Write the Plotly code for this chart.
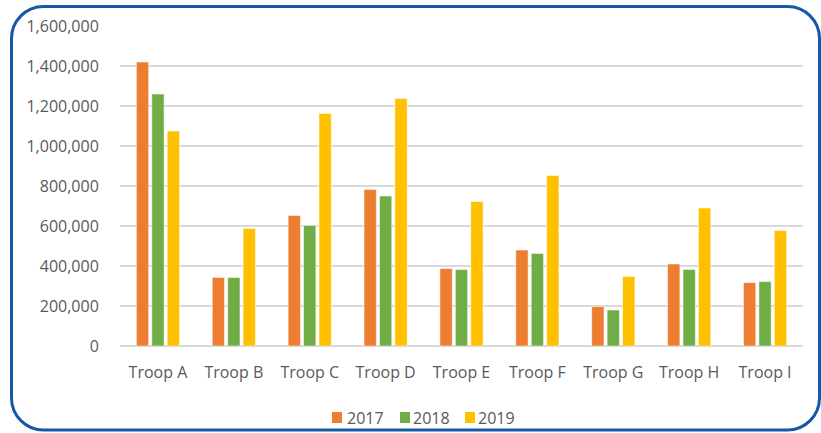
import plotly.graph_objects as go

categories = ["Troop A", "Troop B", "Troop C", "Troop D", "Troop E",
              "Troop F", "Troop G", "Troop H", "Troop I"]
series_names = ["2017", "2018", "2019"]
values_2017 = [1420000, 343000, 653000, 783000, 387000, 480000, 197000, 410000, 317000]
values_2018 = [1260000, 343000, 603000, 750000, 382000, 463000, 180000, 383000, 322000]
values_2019 = [1075000, 588000, 1163000, 1238000, 723000, 853000, 348000, 690000, 577000]
colors = ["#ED7D31", "#70AD47", "#FFC000"]
y_tick_vals = [0, 200000, 400000, 600000, 800000, 1000000, 1200000, 1400000, 1600000]
y_tick_text = ["0", "200,000", "400,000", "600,000", "800,000", "1,000,000",
               "1,200,000", "1,400,000", "1,600,000"]

W, H = 821, 433
ML, MR, MT, MB = 120, 18, 26, 87
PW, PH = W - ML - MR, H - MT - MB


def px(x):
    return (x - ML) / PW


def py(y):
    return (H - MB - y) / PH


def rounded_rect(x0, y0, x1, y1, r):
    k = 0.5523 * r
    pts = [
        ("M", [(x0 + r, y0)]),
        ("L", [(x1 - r, y0)]),
        ("C", [(x1 - r + k, y0), (x1, y0 + r - k), (x1, y0 + r)]),
        ("L", [(x1, y1 - r)]),
        ("C", [(x1, y1 - r + k), (x1 - r + k, y1), (x1 - r, y1)]),
        ("L", [(x0 + r, y1)]),
        ("C", [(x0 + r - k, y1), (x0, y1 - r + k), (x0, y1 - r)]),
        ("L", [(x0, y0 + r)]),
        ("C", [(x0, y0 + r - k), (x0 + r - k, y0), (x0 + r, y0)]),
    ]
    s = ""
    for cmd, ps in pts:
        s += cmd + " " + " ".join(f"{px(a):.5f},{py(b):.5f}" for a, b in ps) + " "
    return s + "Z"


fig = go.Figure()
for name, vals, col in zip(series_names, [values_2017, values_2018, values_2019], colors):
    fig.add_trace(go.Bar(
        x=categories, y=vals, name=name,
        marker=dict(color=col, line=dict(color="rgba(255,255,255,0.55)", width=1)),
        showlegend=False,
    ))

# Legend drawn compactly (square + label), like the reference
legend_sq_x = [332, 400, 465]
legend_txt_x = [345, 411, 476]
shapes = [dict(type="path", xref="paper", yref="paper",
               path=rounded_rect(11.5, 6.5, 819.5, 430, 32),
               line=dict(color="#1558A8", width=3), layer="above")]
annotations = []
for name, col, sx, tx in zip(series_names, colors, legend_sq_x, legend_txt_x):
    shapes.append(dict(type="rect", xref="paper", yref="paper",
                       x0=px(sx), x1=px(sx + 10), y0=py(423), y1=py(412),
                       fillcolor=col, line=dict(width=0)))
    annotations.append(dict(text=name, xref="paper", yref="paper",
                            x=px(tx), y=py(417.5), xanchor="left", yanchor="middle",
                            showarrow=False,
                            font=dict(size=16, color="#595959")))

font_family = "'Open Sans', sans-serif"
fig.update_layout(
    width=W, height=H,
    margin=dict(l=ML, r=MR, t=MT, b=MB),
    paper_bgcolor="white", plot_bgcolor="white",
    barmode="group", bargap=0.39, bargroupgap=0.2,
    font=dict(family=font_family, size=16, color="#595959"),
    showlegend=False,
    xaxis=dict(showgrid=False, showline=False, zeroline=False,
               ticks="outside", ticklen=12, tickcolor="rgba(0,0,0,0)",
               tickfont=dict(size=16, color="#595959")),
    yaxis=dict(range=[0, 1600000], tickvals=y_tick_vals, ticktext=y_tick_text,
               showgrid=True, gridcolor="#D9D9D9", gridwidth=1.5,
               zeroline=True, zerolinecolor="#D9D9D9", zerolinewidth=1.5,
               showline=False, ticks="outside", ticklen=17, tickcolor="rgba(0,0,0,0)",
               tickfont=dict(size=16, color="#595959")),
    shapes=shapes,
    annotations=annotations,
)

post = (
    "document.documentElement.style.margin='0';"
    "document.documentElement.style.overflow='hidden';"
    "document.documentElement.style.height='433px';"
    "document.body.style.margin='0';"
    "document.body.style.overflow='hidden';"
    "document.body.style.height='433px';"
)
fig.write_html("out.html", config={"displayModeBar": False}, post_script=post)
